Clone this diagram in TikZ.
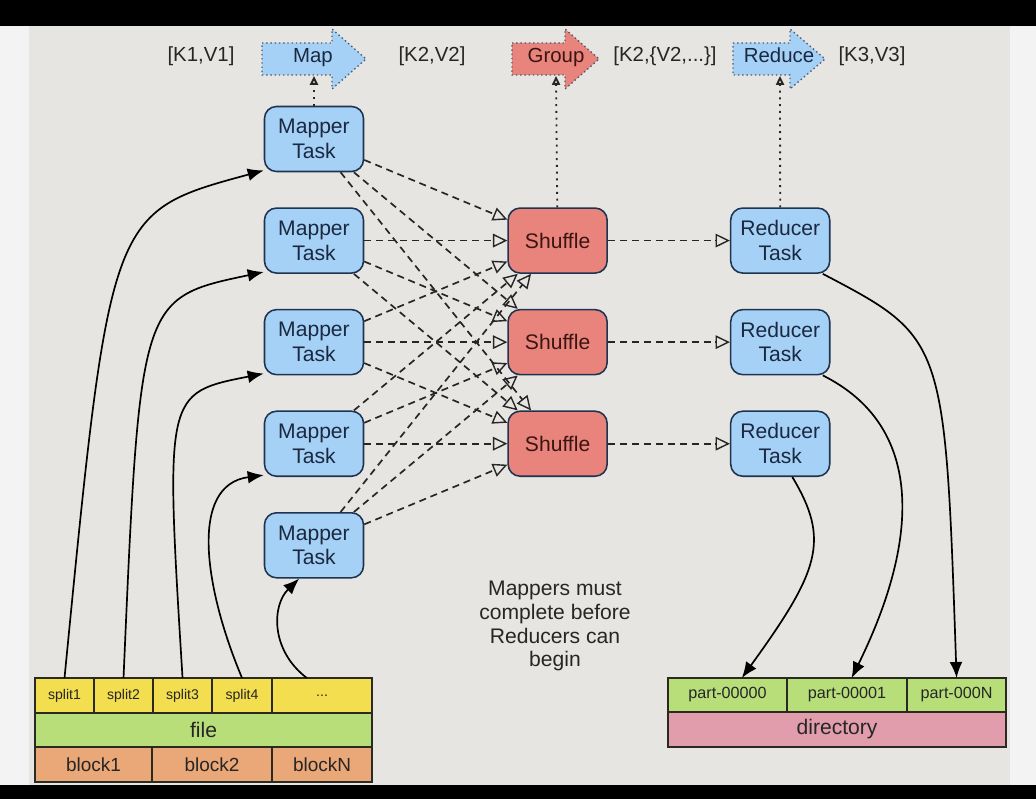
\documentclass[tikz,border=0pt]{standalone}
\usepackage{fontspec}
\setmainfont{Liberation Sans}
\usetikzlibrary{arrows.meta, positioning}
\definecolor{SlideGray}{HTML}{E7E5E2}
\definecolor{SideWhite}{HTML}{F3F3F3}
\definecolor{TaskBlue}{HTML}{A6D1F7}
\definecolor{TaskLine}{HTML}{1E3350}
\definecolor{TaskText}{HTML}{1A2840}
\definecolor{ShuffleRed}{HTML}{E8847C}
\definecolor{ShuffleText}{HTML}{3A1512}
\definecolor{SplitYellow}{HTML}{F3DE4F}
\definecolor{FileGreen}{HTML}{B8DE7A}
\definecolor{BlockOrange}{HTML}{EAA777}
\definecolor{DirPink}{HTML}{E19DAC}
\definecolor{CellLine}{HTML}{2A2A22}
\definecolor{StageLine}{HTML}{4A5A70}
\tikzset{
  taskbox/.style={draw=TaskLine, line width=1.1pt, rounded corners=0.3cm, fill=TaskBlue, align=center, minimum width=2.475cm, minimum height=1.625cm, inner sep=2pt, font=\fontsize{15}{17.5}\selectfont, text=TaskText},
  shufflebox/.style={taskbox, fill=ShuffleRed, text=ShuffleText},
  cell/.style={draw=CellLine, line width=0.9pt, outer sep=0pt, inner sep=0pt, anchor=north west, align=center, text=black!85},
  splitcell/.style={cell, fill=SplitYellow, minimum height=0.875cm, font=\fontsize{10}{12}\selectfont},
  filecell/.style={cell, fill=FileGreen, minimum height=0.85cm, font=\fontsize{15}{17}\selectfont},
  blockcell/.style={cell, fill=BlockOrange, minimum height=0.875cm, font=\fontsize{13.5}{16}\selectfont},
  partcell/.style={cell, fill=FileGreen, minimum height=0.85cm, font=\fontsize{11.5}{14}\selectfont},
  dircell/.style={cell, fill=DirPink, minimum height=0.875cm, font=\fontsize{15}{17}\selectfont},
  kvlabel/.style={font=\fontsize{14.5}{17}\selectfont, text=black!85, inner sep=1pt, text height=0.75em, text depth=0.25em},
  stagetext/.style={font=\fontsize{14.5}{17}\selectfont, text=TaskText, inner sep=1pt, text height=0.75em, text depth=0.25em},
  stagearrow/.style={draw=StageLine, line width=1pt, dotted},
  notetext/.style={align=center, font=\fontsize{15}{17}\selectfont, text=black!85},
  dasharrow/.style={-{Triangle[open, length=3.6mm, width=3.4mm, line width=1pt]}, dash pattern=on 5pt off 3.5pt, line width=1.2pt, draw=black!85},
  dotarrow/.style={-{Triangle[open, length=2.2mm, width=2mm]}, dash pattern=on 1.3pt off 3.5pt, line width=1.3pt, draw=black!85},
  feedarrow/.style={-{Latex[length=4mm, width=3.2mm]}, line width=1.2pt, draw=black}
}
\begin{document}
\begin{tikzpicture}[x=0.025cm, y=0.025cm, node distance=0.875cm]
% slide background
\fill[black] (0,0) rectangle (1036,-799);
\fill[SideWhite] (0,-26) rectangle (1036,-785);
\fill[SlideGray] (29,-26) rectangle (1010,-785);

% stage arrows on top
\foreach \l/\h/\t/\c in {262/332/366/TaskBlue, 512/565/599/ShuffleRed, 733/790/825/TaskBlue}
  \draw[stagearrow, fill=\c] (\l,-43) -- (\h,-43) -- (\h,-29) -- (\t,-59) -- (\h,-89) -- (\h,-75) -- (\l,-75) -- cycle;
\node[stagetext] (map) at (313,-59) {Map};
\node[stagetext, text=ShuffleText] (group) at (556,-59) {Group};
\node[stagetext] (reduce) at (779,-59) {Reduce};
\node[kvlabel] (kv1) at (201,-58) {[K1,V1]};
\node[kvlabel] (kv2) at (432,-58) {[K2,V2]};
\node[kvlabel] (kv3) at (665,-58) {[K2,\{V2,...\}]};
\node[kvlabel] (kv4) at (872,-58) {[K3,V3]};
\coordinate (mapfoot) at (314,-76);
\coordinate (groupfoot) at (556,-76);
\coordinate (reducefoot) at (780,-76);

% tasks
\node[taskbox] (m1) at (314,-139) {Mapper\\Task};
\node[taskbox, below=of m1] (m2) {Mapper\\Task};
\node[taskbox, below=of m2] (m3) {Mapper\\Task};
\node[taskbox, below=of m3] (m4) {Mapper\\Task};
\node[taskbox, below=of m4] (m5) {Mapper\\Task};
\node[shufflebox, right=3.575cm of m2] (s1) {Shuffle};
\node[shufflebox, below=of s1] (s2) {Shuffle};
\node[shufflebox, below=of s2] (s3) {Shuffle};
\node[taskbox, right=3.05cm of s1] (r1) {Reducer\\Task};
\node[taskbox, below=of r1] (r2) {Reducer\\Task};
\node[taskbox, below=of r2] (r3) {Reducer\\Task};

\node[notetext] (note) at (555,-626) {Mappers must\\complete before\\Reducers can\\begin};

% input file
\node[splitcell, minimum width=1.475cm] (sp1) at (35,-678) {split1};
\node[splitcell, minimum width=1.475cm, right=0pt of sp1] (sp2) {split2};
\node[splitcell, minimum width=1.475cm, right=0pt of sp2] (sp3) {split3};
\node[splitcell, minimum width=1.5cm, right=0pt of sp3] (sp4) {split4};
\node[splitcell, minimum width=2.5cm, right=0pt of sp4] (sp5) {...};
\node[filecell, minimum width=8.425cm] (file) at (sp1.south west) {file};
\node[blockcell, minimum width=2.925cm] (b1) at (file.south west) {block1};
\node[blockcell, minimum width=3.0cm, right=0pt of b1] (b2) {block2};
\node[blockcell, minimum width=2.5cm, right=0pt of b2] (bN) {blockN};

% output directory
\node[partcell, minimum width=2.975cm] (p0) at (668,-678) {part-00000};
\node[partcell, minimum width=3.0cm, right=0pt of p0] (p1) {part-00001};
\node[partcell, minimum width=2.475cm, right=0pt of p1] (pN) {part-000N};
\node[dircell, minimum width=8.45cm] (dir) at (p0.south west) {directory};

% connectors
\draw[dotarrow] (m1) -- (mapfoot);
\draw[dotarrow] (s1) -- (groupfoot);
\draw[dotarrow] (r1) -- (reducefoot);
\foreach \i in {1,...,5}
  \foreach \j in {1,2,3}
    \draw[dasharrow] (m\i) -- (s\j);
\foreach \j in {1,2,3}
  \draw[dasharrow] (s\j) -- (r\j);

\draw[feedarrow] (sp1.north) .. controls (110,-212) .. (m1.212);
\draw[feedarrow] (sp2.north) .. controls (140,-298) .. (m2.212);
\draw[feedarrow] (sp3.north) .. controls (165,-393) .. (m3.212);
\draw[feedarrow] (sp4.north) .. controls (205,-590) and (188,-485) .. (m4.212);
\draw[feedarrow] (sp5.131) .. controls (270,-650) and (272,-605) .. (m5.246);
\draw[feedarrow] (r1.322) .. controls (945,-338) .. (pN.north);
\draw[feedarrow] (r2.322) .. controls (922,-425) and (922,-535) .. (p1.75);
\draw[feedarrow] (r3.290) .. controls (830,-540) and (820,-570) .. (p0.50);
\end{tikzpicture}
\end{document}
